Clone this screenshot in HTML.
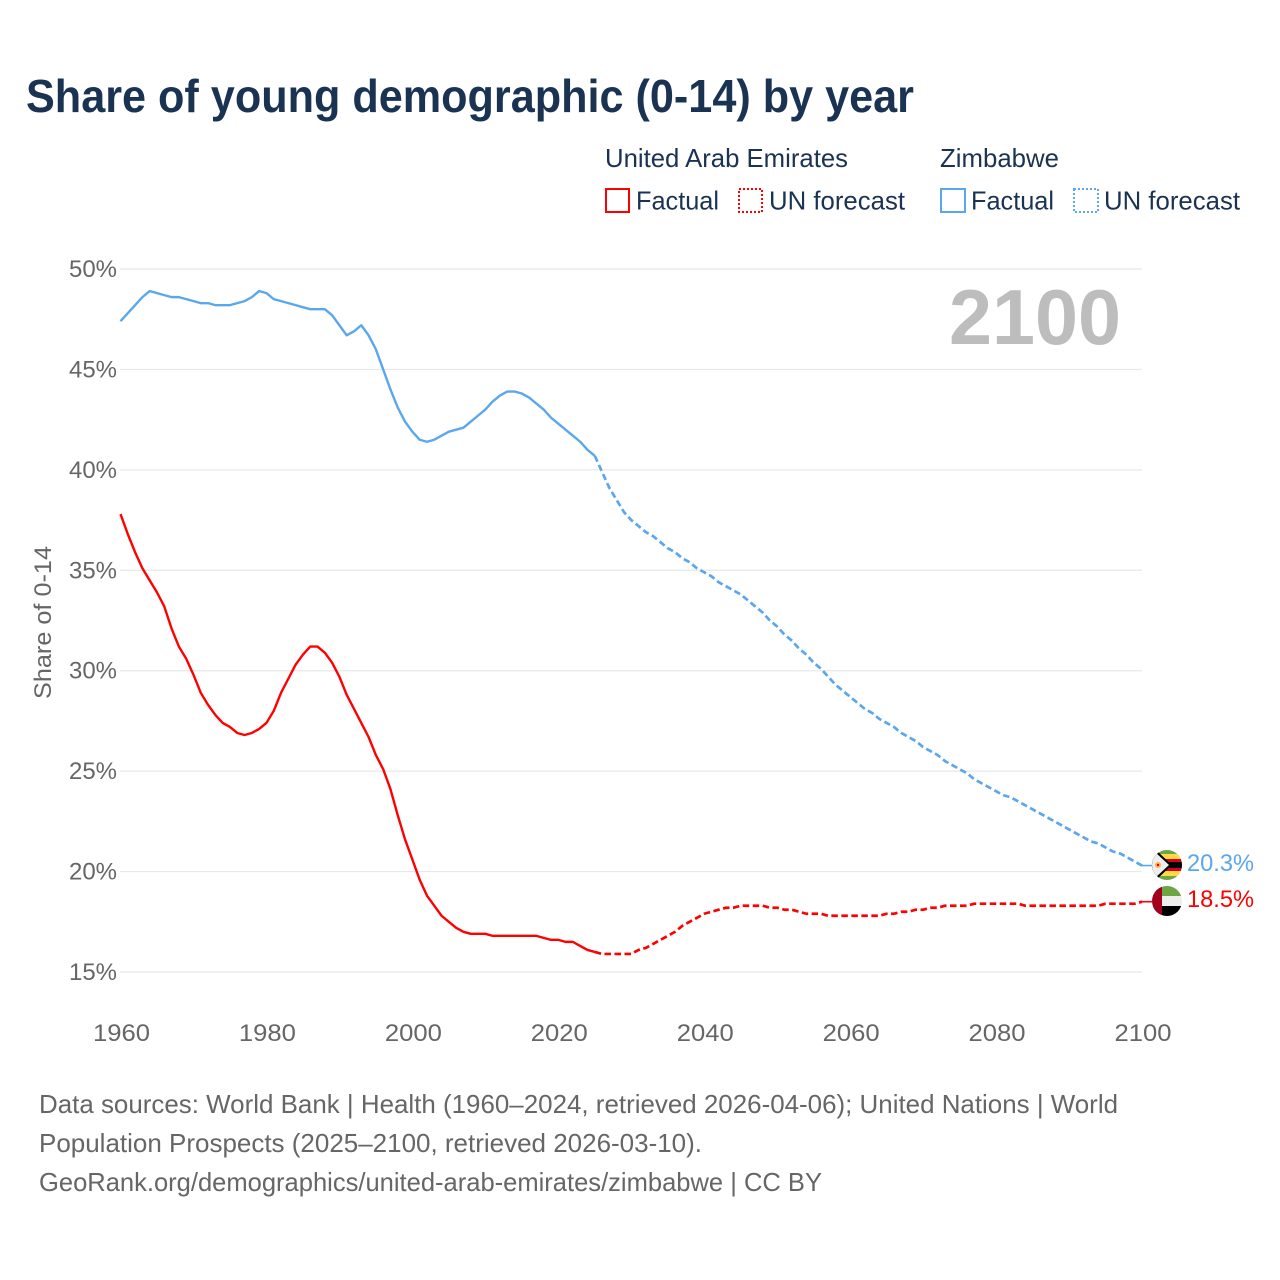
<!DOCTYPE html>
<html>
<head>
<meta charset="utf-8">
<title>Share of young demographic (0-14) by year</title>
<style>
html,body{margin:0;padding:0;background:#fff;}
svg{display:block;}
text{font-family:"Liberation Sans",sans-serif;}
</style>
</head>
<body>
<svg id="chart" xmlns="http://www.w3.org/2000/svg" width="1280" height="1280" viewBox="0 0 1280 1280">
  <rect width="1280" height="1280" fill="#fff"/>
  <text x="26" y="112" font-size="46" font-weight="700" fill="#1a3353" textLength="888" lengthAdjust="spacingAndGlyphs">Share of young demographic (0-14) by year</text>

  <g font-size="26" fill="#1a3353">
    <text x="605" y="167" textLength="243" lengthAdjust="spacingAndGlyphs">United Arab Emirates</text>
    <rect x="606" y="189" width="23" height="23" fill="none" stroke="#ff0000" stroke-width="2"/>
    <text x="636" y="209.5" textLength="83" lengthAdjust="spacingAndGlyphs">Factual</text>
    <rect x="739" y="189" width="23" height="23" fill="none" stroke="#ff0000" stroke-width="2" stroke-dasharray="2 2"/>
    <text x="769" y="209.5" textLength="136" lengthAdjust="spacingAndGlyphs">UN forecast</text>
    <text x="940" y="167" textLength="119" lengthAdjust="spacingAndGlyphs">Zimbabwe</text>
    <rect x="941" y="189" width="24" height="23" fill="none" stroke="#5ba7ee" stroke-width="2"/>
    <text x="971" y="209.5" textLength="83" lengthAdjust="spacingAndGlyphs">Factual</text>
    <rect x="1074" y="189" width="24" height="23" fill="none" stroke="#5ba7ee" stroke-width="2" stroke-dasharray="2 2"/>
    <text x="1104" y="209.5" textLength="136" lengthAdjust="spacingAndGlyphs">UN forecast</text>
  </g>

  <g id="grid"></g>
  <g id="yticks"></g>
  <g id="xticks"></g>

  <text transform="translate(51,699) rotate(-90)" font-size="24" fill="#666" textLength="153" lengthAdjust="spacingAndGlyphs">Share of 0-14</text>
  <text x="949" y="344" font-size="78" font-weight="700" fill="#bdbdbd" textLength="172" lengthAdjust="spacingAndGlyphs">2100</text>

  <g id="series"></g>

  <defs>
    <clipPath id="clip-zw"><circle cx="1167" cy="865" r="15"/></clipPath>
    <clipPath id="clip-ae"><circle cx="1167" cy="901" r="15"/></clipPath>
  </defs>
  <g clip-path="url(#clip-zw)">
    <rect x="1152" y="850" width="30" height="30" fill="#6da544"/>
    <rect x="1152" y="854" width="30" height="5" fill="#ffda44"/>
    <rect x="1152" y="859" width="30" height="3" fill="#d80027"/>
    <rect x="1152" y="862" width="30" height="6" fill="#000"/>
    <rect x="1152" y="868" width="30" height="3" fill="#d80027"/>
    <rect x="1152" y="871" width="30" height="5" fill="#ffda44"/>
    <polygon points="1152,850 1156,850 1172,865 1156,880 1152,880" fill="#000"/>
    <polygon points="1152,852 1155,852 1169,865 1155,878 1152,878" fill="#eeeeee"/>
    <circle cx="1158" cy="865" r="3" fill="#ffb347"/>
    <circle cx="1158" cy="865" r="1.2" fill="#d80027"/>
  </g>
  <g clip-path="url(#clip-ae)">
    <rect x="1152" y="886" width="30" height="10" fill="#6da544"/>
    <rect x="1152" y="896" width="30" height="10" fill="#eeeeee"/>
    <rect x="1152" y="906" width="30" height="10" fill="#000"/>
    <rect x="1152" y="886" width="10" height="30" fill="#a2001d"/>
  </g>

  <text id="label-zw" x="1187" y="871" font-size="24" fill="#5ba7ee" textLength="67" lengthAdjust="spacingAndGlyphs"></text>
  <text id="label-ae" x="1187" y="907" font-size="24" fill="#ff0000" textLength="67" lengthAdjust="spacingAndGlyphs"></text>

  <g font-size="26" fill="#666">
    <text x="39" y="1113" textLength="1079" lengthAdjust="spacingAndGlyphs">Data sources: World Bank | Health (1960–2024, retrieved 2026-04-06); United Nations | World</text>
    <text x="39" y="1152" textLength="663" lengthAdjust="spacingAndGlyphs">Population Prospects (2025–2100, retrieved 2026-03-10).</text>
    <text x="39" y="1191" textLength="783" lengthAdjust="spacingAndGlyphs">GeoRank.org/demographics/united-arab-emirates/zimbabwe | CC BY</text>
  </g>
</svg>
<script>
var yTickValues = [15, 20, 25, 30, 35, 40, 45, 50];
var xTickValues = [1960, 1980, 2000, 2020, 2040, 2060, 2080, 2100];
var factualStartYear = 1960;
var forecastStartYear = 2025;
var zimbabweFactual = [47.4,47.8,48.2,48.6,48.9,48.8,48.7,48.6,48.6,48.5,48.4,48.3,48.3,48.2,48.2,48.2,48.3,48.4,48.6,48.9,48.8,48.5,48.4,48.3,48.2,48.1,48.0,48.0,48.0,47.7,47.2,46.7,46.9,47.2,46.7,46.0,45.0,44.0,43.1,42.4,41.9,41.5,41.4,41.5,41.7,41.9,42.0,42.1,42.4,42.7,43.0,43.4,43.7,43.9,43.9,43.8,43.6,43.3,43.0,42.6,42.3,42.0,41.7,41.4,41.0,40.7];
var zimbabweForecast = [40.7,39.9,39.1,38.5,37.9,37.5,37.2,36.9,36.7,36.4,36.1,35.9,35.6,35.4,35.1,34.9,34.7,34.4,34.2,34.0,33.8,33.5,33.2,32.9,32.5,32.2,31.8,31.5,31.1,30.8,30.4,30.1,29.7,29.3,29.0,28.7,28.4,28.1,27.9,27.6,27.4,27.2,26.9,26.7,26.5,26.2,26.0,25.8,25.5,25.3,25.1,24.9,24.6,24.4,24.2,24.0,23.8,23.7,23.5,23.3,23.1,22.9,22.7,22.5,22.3,22.1,21.9,21.7,21.5,21.4,21.2,21.0,20.9,20.7,20.5,20.3];
var uaeFactual = [37.8,36.8,35.9,35.1,34.5,33.9,33.2,32.1,31.2,30.6,29.8,28.9,28.3,27.8,27.4,27.2,26.9,26.8,26.9,27.1,27.4,28.0,28.9,29.6,30.3,30.8,31.2,31.2,30.9,30.4,29.7,28.8,28.1,27.4,26.7,25.8,25.1,24.1,22.8,21.6,20.6,19.6,18.8,18.3,17.8,17.5,17.2,17.0,16.9,16.9,16.9,16.8,16.8,16.8,16.8,16.8,16.8,16.8,16.7,16.6,16.6,16.5,16.5,16.3,16.1,16.0];
var uaeForecast = [16.0,15.9,15.9,15.9,15.9,15.9,16.1,16.2,16.4,16.6,16.8,17.0,17.3,17.5,17.7,17.9,18.0,18.1,18.2,18.2,18.3,18.3,18.3,18.3,18.2,18.2,18.1,18.1,18.0,17.9,17.9,17.9,17.8,17.8,17.8,17.8,17.8,17.8,17.8,17.8,17.9,17.9,18.0,18.0,18.1,18.1,18.2,18.2,18.3,18.3,18.3,18.3,18.4,18.4,18.4,18.4,18.4,18.4,18.4,18.3,18.3,18.3,18.3,18.3,18.3,18.3,18.3,18.3,18.3,18.3,18.4,18.4,18.4,18.4,18.4,18.5];

var SVG_NS = 'http://www.w3.org/2000/svg';
function xScale(year) { return 120.5 + (year - 1960) * (1142 - 120.5) / 140; }
function yScale(pct) { return 269 + (50 - pct) * (972 - 269) / 35; }
function linePath(values, startYear) {
  var d = '';
  for (var i = 0; i < values.length; i++) {
    d += (i ? 'L' : 'M') + xScale(startYear + i).toFixed(2) + ' ' + yScale(values[i]).toFixed(2);
  }
  return d;
}
function addLine(values, startYear, color, dashed, name) {
  var p = document.createElementNS(SVG_NS, 'path');
  
  
  p.setAttribute('d', linePath(values, startYear));
  p.setAttribute('fill', 'none');
  p.setAttribute('stroke', color);
  p.setAttribute('stroke-width', dashed ? '2.7' : '2.4');
  p.setAttribute('stroke-linejoin', 'round');
  if (dashed) p.setAttribute('stroke-dasharray', '6.5 3.5');
  document.getElementById('series').appendChild(p);
}
function addStub(values, color, name) {
  var last = values[values.length - 1];
  var s = document.createElementNS(SVG_NS, 'line');
  
  
  s.setAttribute('x1', xScale(2100) - 1);
  s.setAttribute('x2', xScale(2100) + 10);
  s.setAttribute('y1', yScale(last));
  s.setAttribute('y2', yScale(last));
  s.setAttribute('stroke', color);
  s.setAttribute('stroke-width', '1.6');
  document.getElementById('series').appendChild(s);
}
yTickValues.forEach(function (v) {
  var g = document.createElementNS(SVG_NS, 'line');
  
  
  g.setAttribute('x1', 120);
  g.setAttribute('x2', 1142);
  g.setAttribute('y1', yScale(v));
  g.setAttribute('y2', yScale(v));
  g.setAttribute('stroke', '#e8e8e8');
  g.setAttribute('stroke-width', '1.2');
  document.getElementById('grid').appendChild(g);
  var t = document.createElementNS(SVG_NS, 'text');
  
  
  t.setAttribute('x', 117);
  t.setAttribute('y', yScale(v) + 8);
  t.setAttribute('text-anchor', 'end');
  t.setAttribute('font-size', '24');
  t.setAttribute('fill', '#666');
  t.setAttribute('textLength', '48');
  t.setAttribute('lengthAdjust', 'spacingAndGlyphs');
  t.textContent = v + '%';
  document.getElementById('yticks').appendChild(t);
});
xTickValues.forEach(function (v) {
  var t = document.createElementNS(SVG_NS, 'text');
  
  
  t.setAttribute('x', xScale(v) + 1);
  t.setAttribute('y', 1041);
  t.setAttribute('text-anchor', 'middle');
  t.setAttribute('font-size', '24');
  t.setAttribute('fill', '#666');
  t.setAttribute('textLength', '57');
  t.setAttribute('lengthAdjust', 'spacingAndGlyphs');
  t.textContent = v;
  document.getElementById('xticks').appendChild(t);
});
addLine(uaeFactual, factualStartYear, '#ff0000', false, 'line-uae-factual');
addLine(uaeForecast, forecastStartYear, '#ff0000', true, 'line-uae-forecast');
addLine(zimbabweFactual, factualStartYear, '#5ba7ee', false, 'line-zimbabwe-factual');
addLine(zimbabweForecast, forecastStartYear, '#5ba7ee', true, 'line-zimbabwe-forecast');
addStub(zimbabweForecast, '#5ba7ee', 'connector-zimbabwe');
addStub(uaeForecast, '#ff0000', 'connector-uae');
document.getElementById('label-zw').textContent = zimbabweForecast[zimbabweForecast.length - 1].toFixed(1) + '%';
document.getElementById('label-ae').textContent = uaeForecast[uaeForecast.length - 1].toFixed(1) + '%';
</script>
</body>
</html>
